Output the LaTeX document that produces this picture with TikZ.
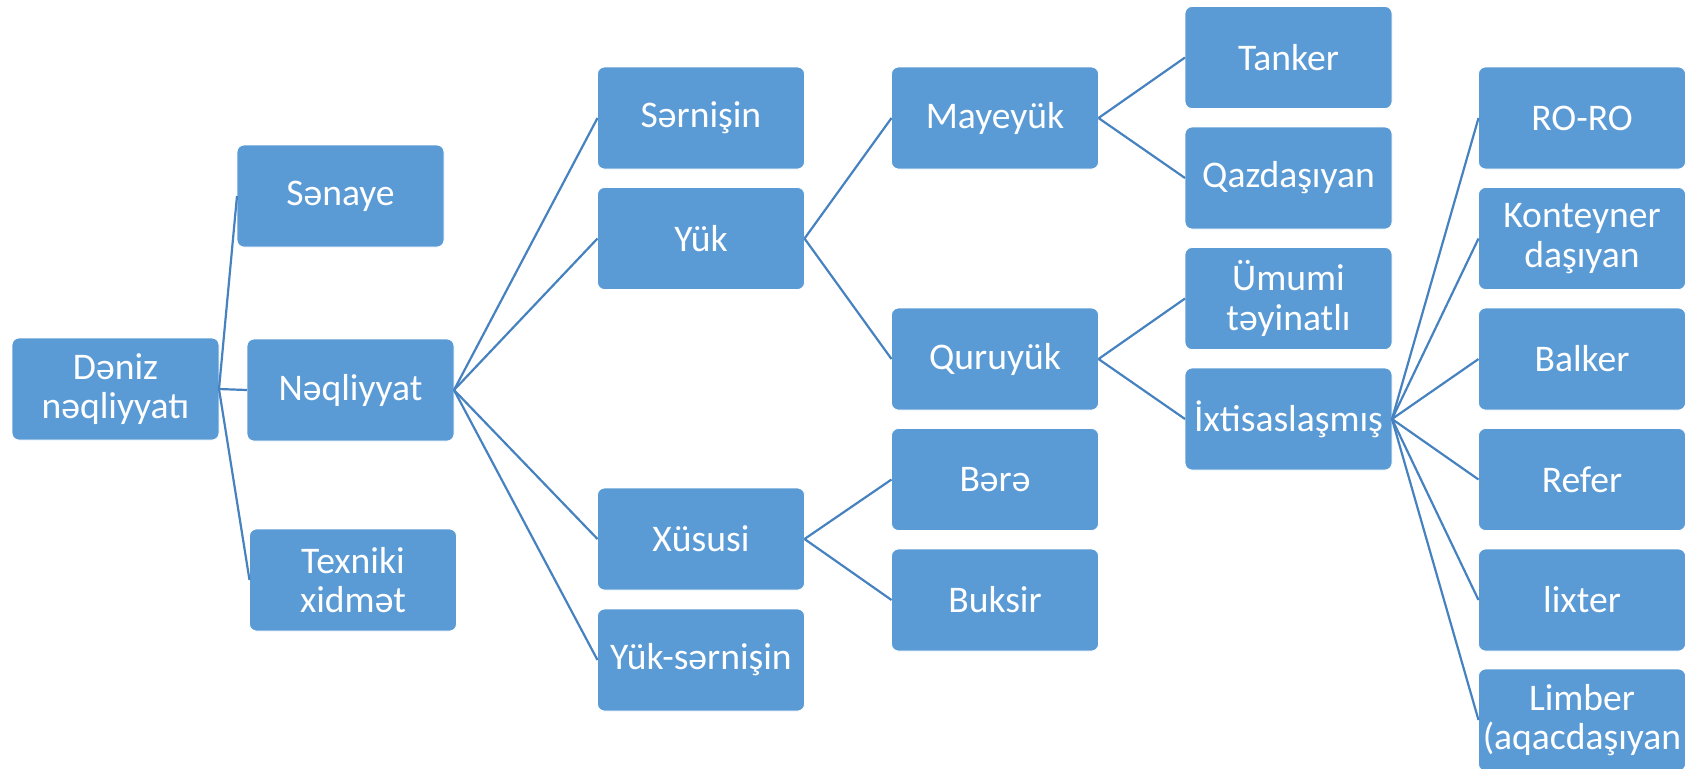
\documentclass[tikz,border=0pt]{standalone}
\usepackage{fontspec}
\setmainfont{Carlito}
\definecolor{boxblue}{RGB}{91,155,213}
\definecolor{lineblue}{RGB}{70,130,192}
\tikzset{
  bx/.style={draw=white, line width=0.4pt, fill=boxblue, rounded corners=3.5pt, text=white,
    minimum height=51pt, minimum width=103.5pt, inner sep=0pt, outer sep=0pt, align=center,
    font=\fontsize{18.8}{19.8}\selectfont},
  conn/.style={draw=lineblue, line width=1.1pt}
}
\begin{document}
\begin{tikzpicture}[x=0.5pt,y=-0.5pt]
\useasboundingbox (0,0) rectangle (1691,768);
\clip (0,0) rectangle (1691,768);
\node[bx] (deniz) at (115.5,389) {Dəniz\\nəqliyyatı};
\node[bx] (senaye) at (340.5,196) {Sənaye};
\node[bx] (neq) at (350.5,390) {Nəqliyyat};
\node[bx] (texniki) at (353,580) {Texniki\\xidmət};
\node[bx] (sernisin) at (701,118) {Sərnişin};
\node[bx] (yuk) at (701,238.5) {Yük};
\node[bx] (xususi) at (701,539) {Xüsusi};
\node[bx] (yuksern) at (701,660) {Yük-sərnişin};
\node[bx] (maye) at (995,118) {Mayeyük};
\node[bx] (quru) at (995,359) {Quruyük};
\node[bx] (bere) at (995,479.5) {Bərə};
\node[bx] (buksir) at (995,600) {Buksir};
\node[bx] (tanker) at (1288.5,57.5) {Tanker};
\node[bx] (qaz) at (1288.5,178) {Qazdaşıyan};
\node[bx] (umumi) at (1288.5,298.5) {Ümumi\\təyinatlı};
\node[bx] (ixt) at (1288.5,419) {İxtisaslaşmış};
\node[bx] (roro) at (1582,118) {RO-RO};
\node[bx] (kont) at (1582,238.5) {Konteyner\\daşıyan};
\node[bx] (balker) at (1582,359) {Balker};
\node[bx] (refer) at (1582,479.5) {Refer};
\node[bx] (lixter) at (1582,600) {lixter};
\node[bx] (limber) at (1582,720) {Limber\\(aqacdaşıyan};
\foreach \c in {senaye,neq,texniki} \draw[conn] (deniz.east) -- (\c.west);
\foreach \c in {sernisin,yuk,xususi,yuksern} \draw[conn] (neq.east) -- (\c.west);
\foreach \c in {maye,quru} \draw[conn] (yuk.east) -- (\c.west);
\foreach \c in {bere,buksir} \draw[conn] (xususi.east) -- (\c.west);
\foreach \c in {tanker,qaz} \draw[conn] (maye.east) -- (\c.west);
\foreach \c in {umumi,ixt} \draw[conn] (quru.east) -- (\c.west);
\foreach \c in {roro,kont,balker,refer,lixter,limber} \draw[conn] (ixt.east) -- (\c.west);
\end{tikzpicture}
\end{document}
